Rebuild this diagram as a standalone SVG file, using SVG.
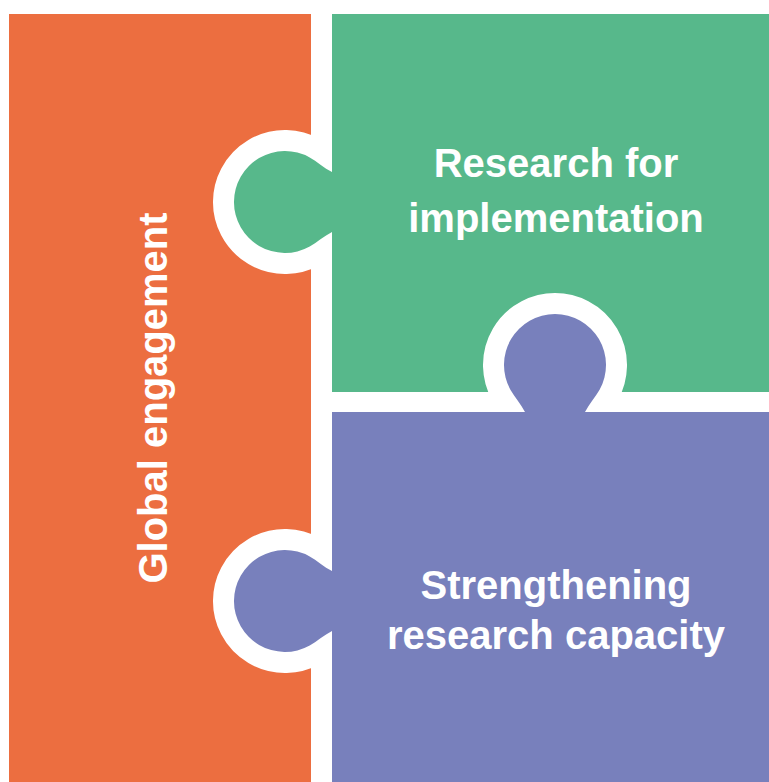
<svg xmlns="http://www.w3.org/2000/svg" width="769" height="782" viewBox="0 0 769 782">
<style>
.orange{fill:#EC6E40}
.green{fill:#57B88B}
.purple{fill:#7880BC}
.gap{fill:#fff;stroke:#fff;stroke-width:42;stroke-linejoin:round}
.label{font-family:"Liberation Sans",Arial,Helvetica,sans-serif;font-weight:bold;font-size:40px;fill:#fff;text-anchor:middle}
</style>
<defs>
<path id="knobLeft" d="M340,-30 L332,-30 C324,-34 316.7,-40.7 309.7,-44.6 A51 51 0 1 0 309.7,44.6 C316.7,40.7 324,34 332,30 L340,30 Z"/>
<path id="knobTop" d="M525,420 L525,412 C521,404 514.3,396.7 510.4,389.7 A51 51 0 1 1 599.6,389.7 C595.7,396.7 589,404 585,412 L585,420 Z"/>
</defs>
<rect width="769" height="782" fill="#fff"/>
<g id="global-engagement">
<rect class="orange" x="9" y="14" width="302" height="768"/>
</g>
<use href="#knobLeft" class="gap" transform="translate(0,202)"/>
<use href="#knobLeft" class="gap" transform="translate(0,601)"/>
<g id="research-for-implementation">
<rect class="green" x="332" y="14" width="437" height="378"/>
<use href="#knobLeft" class="green" transform="translate(0,202)"/>
</g>
<use href="#knobTop" class="gap"/>
<g id="strengthening-research-capacity">
<rect class="purple" x="332" y="412" width="437" height="370"/>
<use href="#knobTop" class="purple"/>
<use href="#knobLeft" class="purple" transform="translate(0,601)"/>
</g>
<g id="labels">
<text class="label" x="556" y="177">Research for</text>
<text class="label" x="556" y="232">implementation</text>
<text class="label" x="556" y="599">Strengthening</text>
<text class="label" x="556" y="649">research capacity</text>
<text class="label" transform="translate(167,398) rotate(-90)">Global engagement</text>
</g>
</svg>
